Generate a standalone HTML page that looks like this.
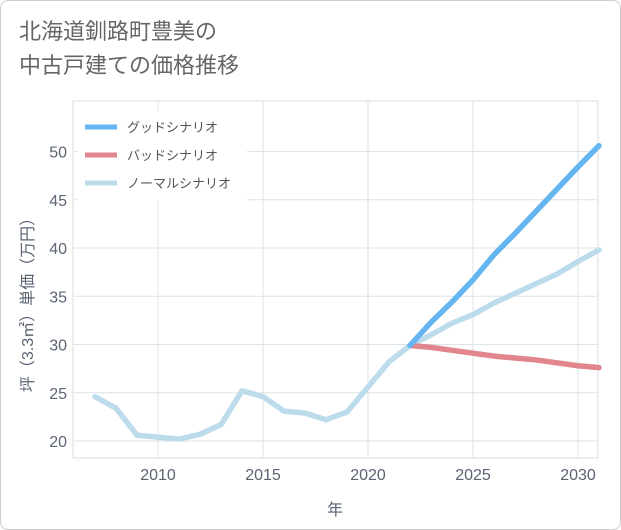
<!DOCTYPE html>
<html><head><meta charset="utf-8"><style>
body{margin:0;background:#fff;font-family:"Liberation Sans","Noto Sans CJK JP",sans-serif}
#wrap{position:relative;width:619px;height:528px;border:1px solid #ccc;border-radius:8px;overflow:hidden;background:#fff}
#title{position:absolute;left:18px;top:14px;font-size:22px;line-height:34px;color:#666}
svg{position:absolute;left:0;top:0}
</style></head><body>
<div id="wrap">
<div id="title">北海道釧路町豊美の<br>中古戸建ての価格推移</div>
<svg id="chart" width="621" height="530"></svg>
</div>
<script>
const years=[2007,2008,2009,2010,2011,2012,2013,2014,2015,2016,2017,2018,2019,2020,2021,2022,2023,2024,2025,2026,2027,2028,2029,2030,2031];
const normal=[24.6,23.4,20.6,20.4,20.2,20.7,21.7,25.2,24.6,23.1,22.9,22.2,23.0,25.6,28.2,29.9,31.0,32.2,33.1,34.3,35.3,36.3,37.3,38.6,39.8];
const futureYears=[2022,2023,2024,2025,2026,2027,2028,2029,2030,2031];
const good=[29.9,32.3,34.4,36.7,39.3,41.5,43.8,46.1,48.4,50.6];
const bad=[29.9,29.7,29.4,29.1,28.8,28.6,28.4,28.1,27.8,27.6];
const xTicks=[2010,2015,2020,2025,2030];
const yTicks=[20,25,30,35,40,45,50];
const L=72,R=597,T=100,B=457;
const x=v=>157+(v-2010)*21;
const y=v=>440-(v-20)*9.65;
const s=document.getElementById('chart'),NS='http://www.w3.org/2000/svg';
function el(t,a,p){const e=document.createElementNS(NS,t);for(const k in a)e.setAttribute(k,a[k]);(p||s).appendChild(e);return e;}
const bg=el('rect',{x:L,y:T,width:R-L,height:B-T,fill:'#fff',stroke:'#d8dde3'});


xTicks.forEach(v=>{const g=el('line',{x1:x(v),x2:x(v),y1:T,y2:B,stroke:'#dde3ea'});

const t=el('text',{x:x(v),y:B+22,'text-anchor':'middle','font-size':16,fill:'#5a6472'});t.textContent=v;
});
yTicks.forEach(v=>{const g=el('line',{x1:L,x2:R,y1:y(v),y2:y(v),stroke:'#dde3ea'});

const t=el('text',{x:L-6,y:y(v)+6,'text-anchor':'end','font-size':16,fill:'#5a6472'});t.textContent=v;
});
function line(xs,vs,c,n){const p=el('polyline',{points:xs.map((v,i)=>x(v)+','+y(vs[i])).join(' '),fill:'none',stroke:c,'stroke-width':5.5,'stroke-linejoin':'round','stroke-linecap':'round'});
}
line(years,normal,'#bcdcec','normal-scenario-line');
line(futureYears,bad,'#e0868c','bad-scenario-line');
line(futureYears,good,'#64b5f0','good-scenario-line');
const leg=el('rect',{x:76,y:110,width:170,height:90,fill:'#fff'});

[['グッドシナリオ','#64b5f0'],['バッドシナリオ','#e0868c'],['ノーマルシナリオ','#bcdcec']].forEach((d,i)=>{
const yy=126+i*28;const l=el('line',{x1:84,x2:116,y1:yy,y2:yy,stroke:d[1],'stroke-width':5});

const t=el('text',{x:126,y:yy+5,'font-size':13,fill:'#555'});t.textContent=d[0];
});
const xt=el('text',{x:334,y:514,'text-anchor':'middle','font-size':16,fill:'#5a6472'});xt.textContent='年';

const yt=el('text',{x:0,y:0,'text-anchor':'middle','font-size':16,fill:'#5a6472',transform:'translate(32,300) rotate(-90)'});yt.textContent='坪（3.3㎡）単価（万円）';

</script>
</body></html>
